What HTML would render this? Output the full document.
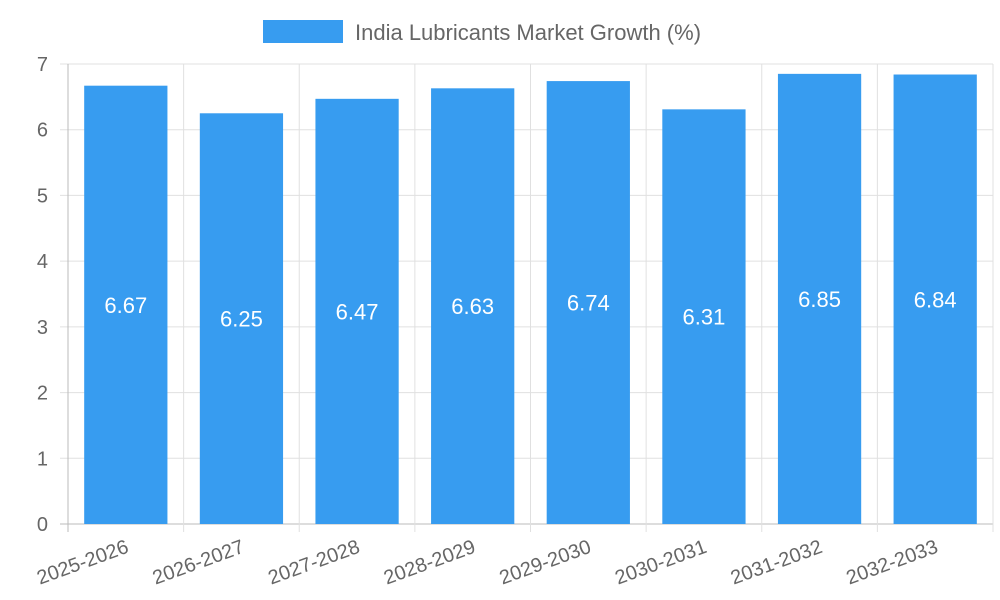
<!DOCTYPE html>
<html><head><meta charset="utf-8"><style>
body{margin:0;background:#fff;}
svg{display:block;font-family:"Liberation Sans",Arial,sans-serif;}
</style></head><body>
<svg id="chart" width="1000" height="600">
<g id="legend">
<rect x="263" y="20" width="80" height="23" fill="#379cf0"/>
<text x="355" y="40" font-size="22" fill="#666">India Lubricants Market Growth (%)</text>
</g>
<g id="grid"></g><g id="bars"></g><g id="axes"></g>
</svg>
<script>
const categories=["2025-2026","2026-2027","2027-2028","2028-2029","2029-2030","2030-2031","2031-2032","2032-2033"];
const values=[6.67,6.25,6.47,6.63,6.74,6.31,6.85,6.84];
const yTicks=[0,1,2,3,4,5,6,7];
const X0=68,X1=993,Y0=524,Y1=64,YMAX=7;
const ns="http://www.w3.org/2000/svg";
const cw=(X1-X0)/categories.length;
const y=v=>Y0-(v/YMAX)*(Y0-Y1);
const xc=i=>X0+cw*(i+0.5);
function mk(tag,attrs,parent){const e=document.createElementNS(ns,tag);for(const k in attrs)e.setAttribute(k,attrs[k]);parent.appendChild(e);return e;}
const grid=document.getElementById('grid'),bars=document.getElementById('bars'),axes=document.getElementById('axes');
yTicks.forEach(t=>{
 const l=mk('line',{x1:X0-8,x2:X1,y1:y(t),y2:y(t),stroke:t===0?'#bbb':'#e0e0e0','stroke-width':1},grid);
 
 
 const tx=mk('text',{x:X0-20,y:y(t)+7,'font-size':20,fill:'#666','text-anchor':'end'},axes);
 tx.textContent=t;
 
 
});
for(let i=0;i<=categories.length;i++){
 const gx=X0+cw*i;
 const l=mk('line',{x1:gx,x2:gx,y1:Y1,y2:Y0+8,stroke:i===0?'#bbb':'#e0e0e0','stroke-width':1},grid);
 
 
}
categories.forEach((c,i)=>{
 const bw=cw*0.72,v=values[i];
 const r=mk('rect',{x:xc(i)-bw/2,y:y(v),width:bw,height:Y0-y(v),fill:'#379cf0'},bars);
 
 
 const t=mk('text',{x:xc(i),y:(y(v)+Y0)/2+8,'font-size':22,fill:'#fff','text-anchor':'middle'},bars);
 t.textContent=v.toFixed(2);
 
 
 const lx=xc(i)+4,ly=Y0+28;
 const xl=mk('text',{x:lx,y:ly,'font-size':20,fill:'#666','text-anchor':'end',transform:`rotate(-20 ${lx} ${ly})`},axes);
 xl.textContent=c;
 
 
});
</script>
</body></html>
